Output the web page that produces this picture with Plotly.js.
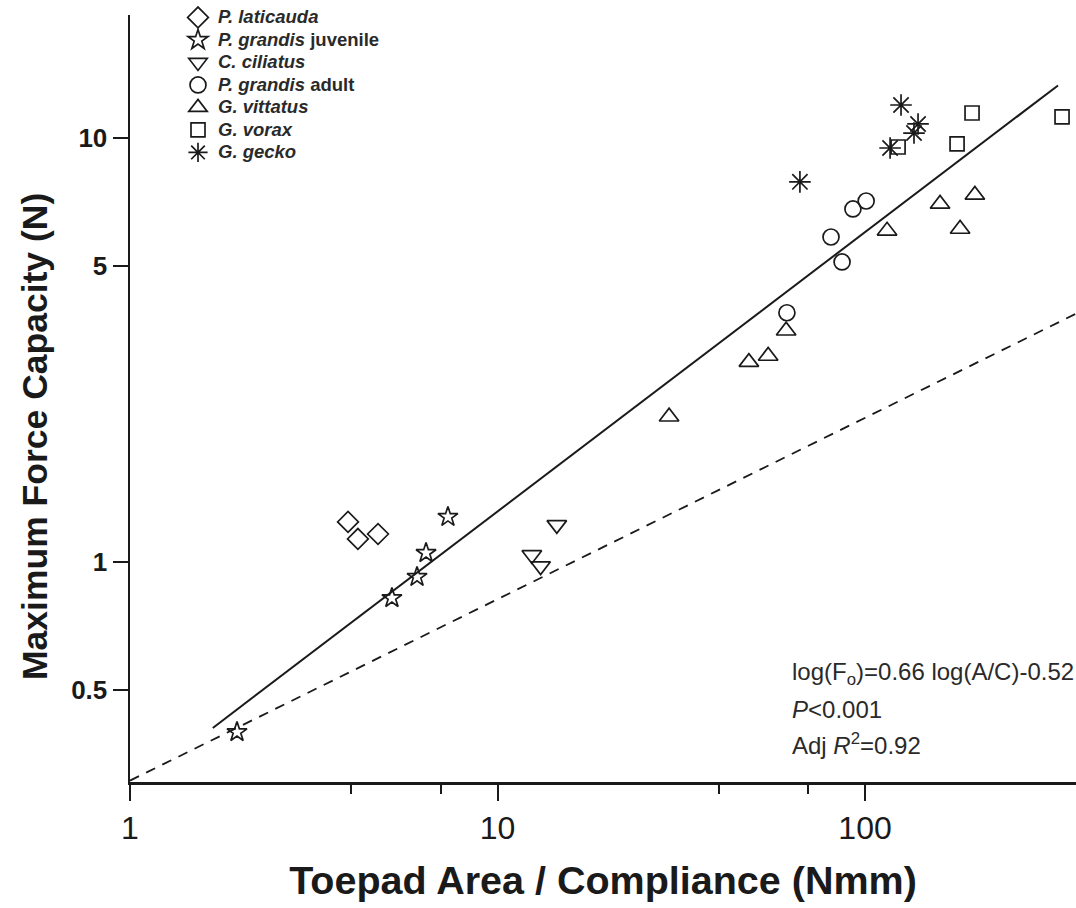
<!DOCTYPE html>
<html>
<head>
<meta charset="utf-8">
<script src="https://cdn.plot.ly/plotly-3.0.1.min.js"></script>
<style>html,body{margin:0;padding:0;background:#fff;}#chart{width:1076px;height:908px;}</style>
</head>
<body>
<div id="chart"></div>
<script>
// ---- data ----
const seriesNames = [
  "<i>P. laticauda</i>",
  "<i>P. grandis</i> juvenile",
  "<i>C. ciliatus</i>",
  "<i>P. grandis</i> adult",
  "<i>G. vittatus</i>",
  "<i>G. vorax</i>",
  "<i>G. gecko</i>"
];
const laticaudaX = [3.92, 4.17, 4.73];
const laticaudaY = [1.243, 1.133, 1.164];
const juvenileX = [1.955, 5.16, 6.04, 6.39, 7.33];
const juvenileY = [0.397, 0.822, 0.922, 1.05, 1.277];
const ciliatusX = [14.5, 12.4, 13.1];
const ciliatusY = [1.223, 1.039, 0.978];
const adultX = [61.3, 86.6, 80.8, 92.7, 100.7];
const adultY = [3.87, 5.10, 5.84, 6.80, 7.10];
const vittatusX = [29.3, 48.3, 54.5, 61.0, 114.8, 160, 181.4, 199];
const vittatusY = [2.20, 2.96, 3.06, 3.51, 6.04, 6.99, 6.10, 7.34];
const voraxX = [195.5, 343.6, 178, 123];
const voraxY = [11.45, 11.21, 9.68, 9.52];
const geckoX = [125.3, 135.9, 139.4, 117, 66.5];
const geckoY = [11.96, 10.27, 10.79, 9.47, 7.88];
const fitX = [1.68, 335];
const fitY = [0.406, 13.3];
const dashX = [1, 375];
const dashY = [0.305, 3.85];
const xTickVals = [1, 10, 100];
const xTickText = ["1", "10", "100"];
const xMinorVals = [4, 7, 40, 70, 400];
const yTickVals = [0.5, 1, 5, 10];
const yTickText = ["0.5", "1", "5", "10"];
const xTitle = "Toepad Area / Compliance (Nmm)";
const yTitle = "Maximum Force Capacity (N)";
const eqLines = ["log(F<sub>o</sub>)=0.66 log(A/C)-0.52", "<i>P</i><0.001", "Adj <i>R</i><sup>2</sup>=0.92"];

// ---- styling ----
const ink = "#1a1a1a";
function legendLabel(t) {
  return '<span style="font-size:18.5px"><b>' + t + '</b></span>';
}
function pts(x, y, name, symbol, size) {
  return {
    type: "scatter", mode: "markers", x: x, y: y, name: legendLabel(name),
    marker: {symbol: symbol, size: size, color: ink, line: {width: 1.7, color: ink}},
    cliponaxis: false
  };
}
const data = [
  pts(laticaudaX, laticaudaY, seriesNames[0], "diamond-open", 16),
  pts(juvenileX, juvenileY, seriesNames[1], "star-open", 15),
  pts(ciliatusX, ciliatusY, seriesNames[2], "triangle-down-open", 17),
  pts(adultX, adultY, seriesNames[3], "circle-open", 16),
  pts(vittatusX, vittatusY, seriesNames[4], "triangle-up-open", 17),
  pts(voraxX, voraxY, seriesNames[5], "square-open", 14),
  pts(geckoX, geckoY, seriesNames[6], "asterisk-open", 18),
  {type: "scatter", mode: "lines", x: fitX, y: fitY, showlegend: false,
   line: {color: ink, width: 2}},
  {type: "scatter", mode: "lines", x: dashX, y: dashY, showlegend: false,
   line: {color: ink, width: 1.8, dash: "10px,8px"}}
];

const annotations = eqLines.map((t, i) => ({
  xref: "paper", yref: "paper", x: (790 - 130) / 946, xanchor: "left",
  y: 1 - ([673, 709, 744][i] - 15) / 767, yanchor: "middle",
  text: t, showarrow: false,
  font: {family: "Liberation Sans, Arial, sans-serif", size: 24, color: "#2a2a2a"}
}));
// y-axis title (placed off-centre as in the reference)
annotations.push({
  xref: "paper", yref: "paper", x: (35 - 130) / 946, xanchor: "center",
  y: 1 - (437 - 15) / 767, yanchor: "middle",
  text: "<b>" + yTitle + "</b>", textangle: -90, showarrow: false,
  font: {family: "Liberation Sans, Arial, sans-serif", size: 35.5, color: ink}
});

const layout = {
  width: 1076, height: 908,
  margin: {l: 130, r: 0, t: 15, b: 126, pad: 0},
  paper_bgcolor: "#fff", plot_bgcolor: "#fff",
  showlegend: true,
  legend: {
    x: (178 - 130) / 946, xanchor: "left", y: 1.018, yanchor: "top",
    bgcolor: "rgba(0,0,0,0)", borderwidth: 0,
    font: {family: "Liberation Sans, Arial, sans-serif", size: 15, color: "#2a2a2a"},
    tracegroupgap: 0
  },
  xaxis: {
    type: "log", range: [0, Math.log10(375)],
    showline: true, linewidth: 2.5, linecolor: ink, mirror: false,
    showgrid: false, zeroline: false,
    ticks: "outside", ticklen: 16, tickwidth: 2, tickcolor: ink,
    tickmode: "array", tickvals: xTickVals, ticktext: xTickText,
    minor: {tickmode: "array", tickvals: xMinorVals, ticks: "outside", ticklen: 9, tickwidth: 2, tickcolor: ink, showgrid: false},
    tickfont: {family: "Liberation Sans Narrow, Arial Narrow, Liberation Sans, sans-serif", size: 32, color: ink},
    title: {text: "<b>" + xTitle + "</b>", standoff: 22,
      font: {family: "Liberation Sans, Arial, sans-serif", size: 39.5, color: ink}},
    automargin: false
  },
  yaxis: {
    type: "log", range: [-0.519, 1.290],
    showline: true, linewidth: 2.5, linecolor: ink,
    showgrid: false, zeroline: false,
    ticks: "outside", ticklen: 15, tickwidth: 2, tickcolor: ink,
    tickmode: "array", tickvals: yTickVals, ticktext: yTickText,
    tickfont: {family: "Liberation Sans, Arial, sans-serif", size: 26, color: ink, weight: "bold"},
    automargin: false
  },
  annotations: annotations
};

Plotly.newPlot("chart", data, layout, {displayModeBar: false, staticPlot: true});
</script>
</body>
</html>
